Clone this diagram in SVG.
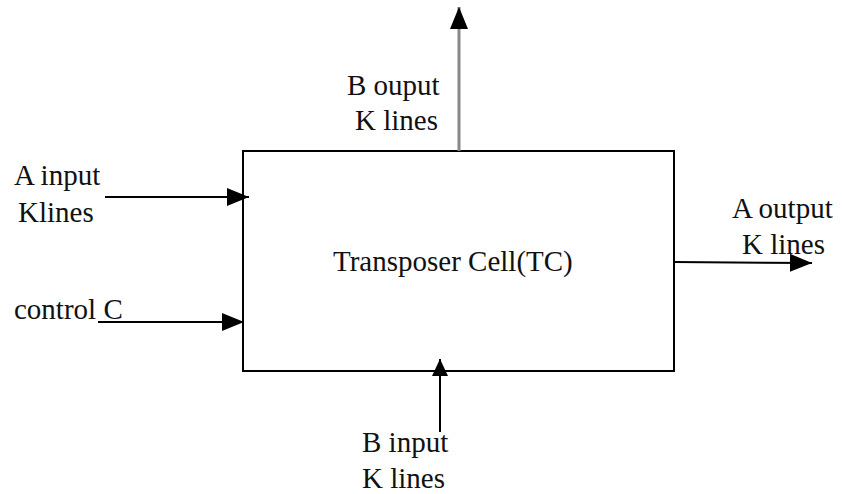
<svg xmlns="http://www.w3.org/2000/svg" width="842" height="494" viewBox="0 0 842 494">
<defs>
<marker id="ah" markerUnits="userSpaceOnUse" markerWidth="22" markerHeight="18" refX="22" refY="9" orient="auto"><path d="M0,0 L22,9 L0,18 Z" fill="#000"/></marker>
<marker id="ahs" markerUnits="userSpaceOnUse" markerWidth="17" markerHeight="16" refX="17" refY="8" orient="auto"><path d="M0,0 L17,8 L0,16 Z" fill="#000"/></marker>
</defs>
<rect width="842" height="494" fill="#fff"/>
<g id="tc">
<rect x="243" y="151" width="431" height="220" fill="#fff" stroke="#000" stroke-width="2"/>
<text x="333" y="271" font-family="Liberation Serif" font-size="29" fill="#111">Transposer Cell(TC)</text>
</g>
<g id="connectors" stroke="#000" stroke-width="2" fill="none">
<line x1="105" y1="197" x2="249" y2="197" marker-end="url(#ah)"/>
<line x1="98" y1="322" x2="244" y2="322" marker-end="url(#ah)"/>
<line x1="459" y1="151" x2="459" y2="7" stroke="#888" stroke-width="3" marker-end="url(#ah)"/>
<line x1="674" y1="262" x2="812" y2="263" marker-end="url(#ah)"/>
<line x1="440" y1="432" x2="440" y2="359" marker-end="url(#ahs)"/>
</g>
<g id="lbl-a-in"><text x="14" y="185" font-family="Liberation Serif" font-size="29" fill="#111">A input</text><text x="18" y="222" font-family="Liberation Serif" font-size="29" fill="#111">Klines</text></g>
<g id="lbl-ctrl"><text x="14" y="319" font-family="Liberation Serif" font-size="29" fill="#111">control C</text></g>
<g id="lbl-b-out"><text x="347" y="95" font-family="Liberation Serif" font-size="29" fill="#111">B ouput</text><text x="355" y="130" font-family="Liberation Serif" font-size="29" fill="#111">K lines</text></g>
<g id="lbl-a-out"><text x="732" y="218" font-family="Liberation Serif" font-size="29" fill="#111">A output</text><text x="742" y="254" font-family="Liberation Serif" font-size="29" fill="#111">K lines</text></g>
<g id="lbl-b-in"><text x="362" y="452" font-family="Liberation Serif" font-size="29" fill="#111">B input</text><text x="362" y="488" font-family="Liberation Serif" font-size="29" fill="#111">K lines</text></g>
</svg>
